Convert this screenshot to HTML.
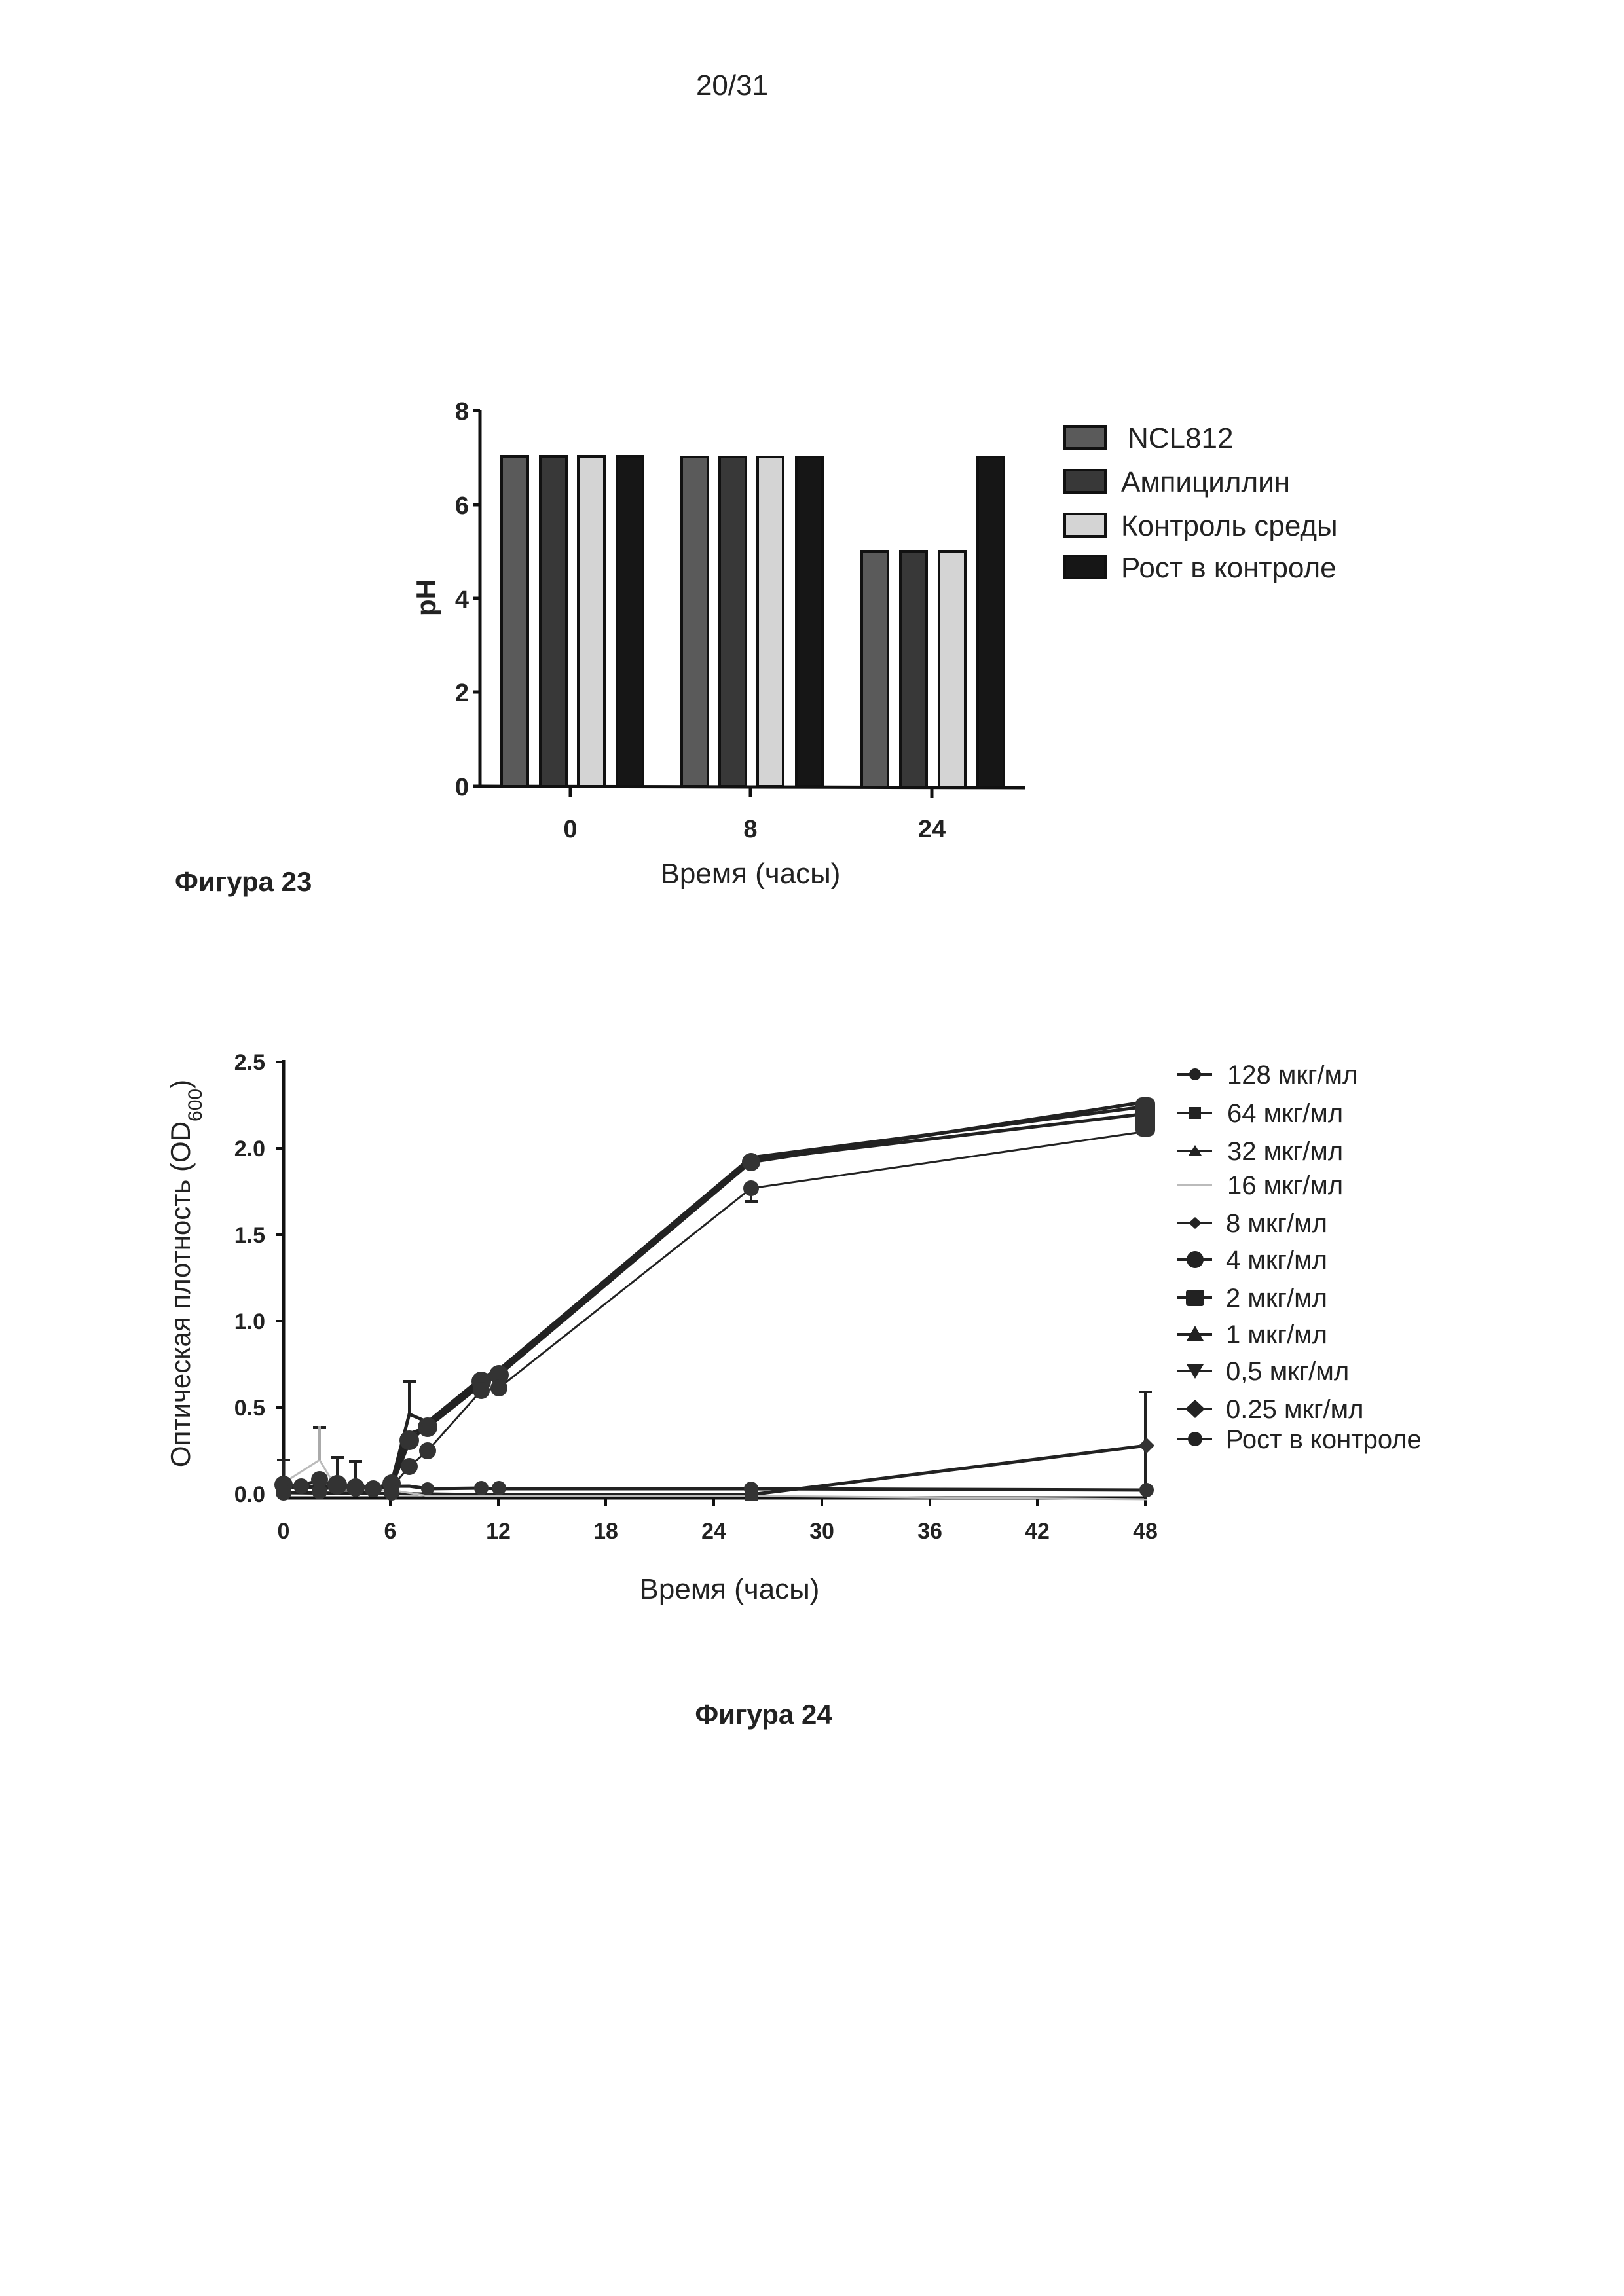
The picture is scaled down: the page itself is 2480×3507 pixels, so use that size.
<!DOCTYPE html>
<html><head><meta charset="utf-8"><style>
html,body{margin:0;padding:0;background:#fff}
svg{display:block}
text{font-family:"Liberation Sans",sans-serif;fill:#222}
</style></head><body>
<svg width="2480" height="3507" viewBox="0 0 2480 3507" xmlns="http://www.w3.org/2000/svg">
<rect width="2480" height="3507" fill="#fff"/>
<text x="1118" y="145" font-size="44" text-anchor="middle">20/31</text>

<!-- Figure 23 bar chart -->
<g stroke="#111" stroke-width="5" fill="none">
<line x1="733" y1="626" x2="733" y2="1201"/>
<line x1="733" y1="1201" x2="1566" y2="1203"/>
<line x1="722" y1="627" x2="733" y2="627"/>
<line x1="722" y1="771" x2="733" y2="771"/>
<line x1="722" y1="914" x2="733" y2="914"/>
<line x1="722" y1="1057" x2="733" y2="1057"/>
<line x1="722" y1="1201" x2="733" y2="1201"/>
<line x1="871" y1="1202" x2="871" y2="1218"/>
<line x1="1146" y1="1202" x2="1146" y2="1218"/>
<line x1="1423" y1="1203" x2="1423" y2="1219"/>
</g>
<g stroke="#111" stroke-width="4">
<rect x="766" y="697" width="40" height="504" fill="#5a5a5a"/>
<rect x="825" y="697" width="40" height="504" fill="#383838"/>
<rect x="883" y="697" width="40" height="504" fill="#d4d4d4"/>
<rect x="942" y="697" width="40" height="504" fill="#161616"/>
<rect x="1041" y="698" width="40" height="503" fill="#5a5a5a"/>
<rect x="1099" y="698" width="40" height="503" fill="#383838"/>
<rect x="1157" y="698" width="39" height="503" fill="#d4d4d4"/>
<rect x="1216" y="698" width="40" height="503" fill="#161616"/>
<rect x="1316" y="842" width="40" height="360" fill="#5a5a5a"/>
<rect x="1375" y="842" width="40" height="360" fill="#383838"/>
<rect x="1434" y="842" width="40" height="360" fill="#d4d4d4"/>
<rect x="1493" y="698" width="40" height="504" fill="#161616"/>
</g>
<g font-size="38" font-weight="bold" text-anchor="end">
<text x="716" y="641">8</text><text x="716" y="785">6</text><text x="716" y="928">4</text><text x="716" y="1071">2</text><text x="716" y="1215">0</text>
</g>
<g font-size="38" font-weight="bold" text-anchor="middle">
<text x="871" y="1279">0</text><text x="1146" y="1279">8</text><text x="1423" y="1279">24</text>
</g>
<text transform="translate(665,913) rotate(-90)" font-size="42" font-weight="bold" text-anchor="middle">pH</text>
<text x="1146" y="1349" font-size="44" text-anchor="middle">Время (часы)</text>
<g stroke="#111" stroke-width="4">
<rect x="1626" y="651" width="62" height="34" fill="#5a5a5a"/>
<rect x="1626" y="718" width="62" height="34" fill="#383838"/>
<rect x="1626" y="785" width="62" height="34" fill="#d4d4d4"/>
<rect x="1626" y="849" width="62" height="34" fill="#161616"/>
</g>
<g font-size="44">
<text x="1722" y="684">NCL812</text>
<text x="1712" y="751">Ампициллин</text>
<text x="1712" y="818">Контроль среды</text>
<text x="1712" y="882">Рост в контроле</text>
</g>
<text x="267" y="1361" font-size="42" font-weight="bold">Фигура 23</text>

<!-- Figure 24 line chart -->
<g stroke="#111" stroke-width="5" fill="none">
<line x1="433" y1="1619" x2="433" y2="2288"/>
<line x1="433" y1="2288" x2="1751" y2="2288"/>
</g>
<g stroke="#111" stroke-width="4">
<line x1="421" y1="1622" x2="433" y2="1622"/><line x1="421" y1="1754" x2="433" y2="1754"/>
<line x1="421" y1="1886" x2="433" y2="1886"/><line x1="421" y1="2018" x2="433" y2="2018"/>
<line x1="421" y1="2150" x2="433" y2="2150"/><line x1="421" y1="2282" x2="433" y2="2282"/>
<line x1="596" y1="2288" x2="596" y2="2300"/><line x1="761" y1="2288" x2="761" y2="2300"/>
<line x1="925" y1="2288" x2="925" y2="2300"/><line x1="1090" y1="2288" x2="1090" y2="2300"/>
<line x1="1255" y1="2288" x2="1255" y2="2300"/><line x1="1420" y1="2288" x2="1420" y2="2300"/>
<line x1="1584" y1="2288" x2="1584" y2="2300"/><line x1="1749" y1="2288" x2="1749" y2="2300"/>
</g>
<g font-size="34" font-weight="bold" text-anchor="end">
<text x="405" y="1634">2.5</text><text x="405" y="1766">2.0</text><text x="405" y="1898">1.5</text>
<text x="405" y="2030">1.0</text><text x="405" y="2162">0.5</text><text x="405" y="2294">0.0</text>
</g>
<g font-size="34" font-weight="bold" text-anchor="middle">
<text x="433" y="2350">0</text><text x="596" y="2350">6</text><text x="761" y="2350">12</text>
<text x="925" y="2350">18</text><text x="1090" y="2350">24</text><text x="1255" y="2350">30</text>
<text x="1420" y="2350">36</text><text x="1584" y="2350">42</text><text x="1749" y="2350">48</text>
</g>
<text transform="translate(290,1945) rotate(-90)" font-size="42" text-anchor="middle">Оптическая плотность (OD<tspan font-size="30" dy="18">600</tspan><tspan dy="-18">)</tspan></text>
<text x="1114" y="2442" font-size="44" text-anchor="middle">Время (часы)</text>

<g fill="none" stroke="#222" stroke-width="5">
<polyline points="433,2269 460,2270 488,2274 515,2272 543,2277 570,2276 598,2270 625,2203 653,2176 735,2110 762,2097 1147,1772 1751,1701"/>
<polyline points="433,2266 460,2272 488,2270 515,2275 543,2274 570,2277 598,2262 625,2190 653,2180 735,2115 762,2100 1147,1775 1751,1683"/>
<polyline points="433,2270 460,2268 488,2262 515,2270 543,2276 570,2278 598,2265 625,2160 653,2172 735,2105 762,2092 1147,1768 1751,1690"/>
<polyline points="433,2272 460,2274 488,2268 515,2278 543,2272 570,2276 598,2272 625,2240 653,2216 735,2124 762,2120 1147,1815 1751,1728" stroke-width="3"/>
<polyline points="433,2272 625,2270 653,2274 735,2273 762,2274 1147,2274 1751,2276"/>
<polyline points="433,2280 653,2282 735,2283 762,2283 1147,2283 1751,2208"/>
</g>
<polyline points="433,2265 488,2230 515,2275 598,2276 653,2285 1147,2285 1751,2290" fill="none" stroke="#bbb" stroke-width="3"/>
<g stroke="#222" stroke-width="4">
<line x1="433" y1="2268" x2="433" y2="2230"/><line x1="423" y1="2230" x2="443" y2="2230"/>
<line x1="488" y1="2230" x2="488" y2="2180"/><line x1="478" y1="2180" x2="498" y2="2180"/>
<line x1="515" y1="2260" x2="515" y2="2226"/><line x1="505" y1="2226" x2="525" y2="2226"/>
<line x1="543" y1="2262" x2="543" y2="2232"/><line x1="533" y1="2232" x2="553" y2="2232"/>
<line x1="625" y1="2160" x2="625" y2="2110"/><line x1="615" y1="2110" x2="635" y2="2110"/>
<line x1="1147" y1="1815" x2="1147" y2="1835"/><line x1="1137" y1="1835" x2="1157" y2="1835"/>
<line x1="1749" y1="2208" x2="1749" y2="2126"/><line x1="1739" y1="2126" x2="1759" y2="2126"/>
<line x1="1749" y1="2208" x2="1749" y2="2290"/>
</g>
<line x1="488" y1="2230" x2="488" y2="2178" stroke="#aaa" stroke-width="4"/>
<g fill="#333">
<circle cx="433" cy="2268" r="14"/><circle cx="433" cy="2280" r="12"/><circle cx="460" cy="2270" r="12"/><circle cx="488" cy="2260" r="13"/>
<circle cx="488" cy="2278" r="12"/><circle cx="515" cy="2268" r="15"/><circle cx="543" cy="2272" r="14"/><circle cx="570" cy="2274" r="13"/>
<circle cx="598" cy="2266" r="14"/><circle cx="598" cy="2280" r="12"/><circle cx="625" cy="2200" r="15"/><circle cx="625" cy="2240" r="13"/><circle cx="653" cy="2180" r="15"/>
<circle cx="653" cy="2216" r="13"/><circle cx="735" cy="2110" r="15"/><circle cx="735" cy="2124" r="13"/><circle cx="762" cy="2100" r="15"/>
<circle cx="762" cy="2120" r="13"/><circle cx="1147" cy="1775" r="14"/><circle cx="1147" cy="1815" r="12"/>
<rect x="1734" y="1676" width="30" height="60" rx="10"/>
<circle cx="653" cy="2274" r="10"/><circle cx="735" cy="2273" r="11"/><circle cx="762" cy="2273" r="11"/>
<circle cx="1147" cy="2274" r="11"/><circle cx="1751" cy="2276" r="11"/>
<rect x="1137" y="2274" width="20" height="18"/><polygon points="1751,2196 1763,2208 1751,2220 1739,2208"/>
</g>

<g stroke="#222" stroke-width="4">
<line x1="1798" y1="1641" x2="1851" y2="1641"/><line x1="1798" y1="1700" x2="1851" y2="1700"/>
<line x1="1798" y1="1758" x2="1851" y2="1758"/><line x1="1798" y1="1868" x2="1851" y2="1868"/>
<line x1="1798" y1="1924" x2="1851" y2="1924"/><line x1="1798" y1="1982" x2="1851" y2="1982"/>
<line x1="1798" y1="2038" x2="1851" y2="2038"/><line x1="1798" y1="2094" x2="1851" y2="2094"/>
<line x1="1798" y1="2152" x2="1851" y2="2152"/><line x1="1798" y1="2198" x2="1851" y2="2198"/>
</g>
<line x1="1798" y1="1810" x2="1851" y2="1810" stroke="#bbb" stroke-width="3"/>
<g fill="#222">
<circle cx="1825" cy="1641" r="9"/><rect x="1816" y="1691" width="18" height="18"/>
<polygon points="1825,1749 1835,1765 1815,1765"/><polygon points="1825,1859 1835,1868 1825,1877 1815,1868"/>
<circle cx="1825" cy="1924" r="13"/><rect x="1811" y="1970" width="28" height="25" rx="4"/>
<polygon points="1825,2025 1838,2048 1812,2048"/><polygon points="1812,2084 1838,2084 1825,2106"/>
<polygon points="1825,2138 1840,2152 1825,2166 1810,2152"/><circle cx="1825" cy="2198" r="11"/>
</g>
<g font-size="40">
<text x="1874" y="1655">128 мкг/мл</text><text x="1874" y="1714">64 мкг/мл</text>
<text x="1874" y="1772">32 мкг/мл</text><text x="1874" y="1824">16 мкг/мл</text>
<text x="1872" y="1882">8 мкг/мл</text><text x="1872" y="1938">4 мкг/мл</text>
<text x="1872" y="1996">2 мкг/мл</text><text x="1872" y="2052">1 мкг/мл</text>
<text x="1872" y="2108">0,5 мкг/мл</text><text x="1872" y="2166">0.25 мкг/мл</text>
<text x="1872" y="2212">Рост в контроле</text>
</g>
<text x="1166" y="2633" font-size="42" font-weight="bold" text-anchor="middle">Фигура 24</text>
</svg>
</body></html>
